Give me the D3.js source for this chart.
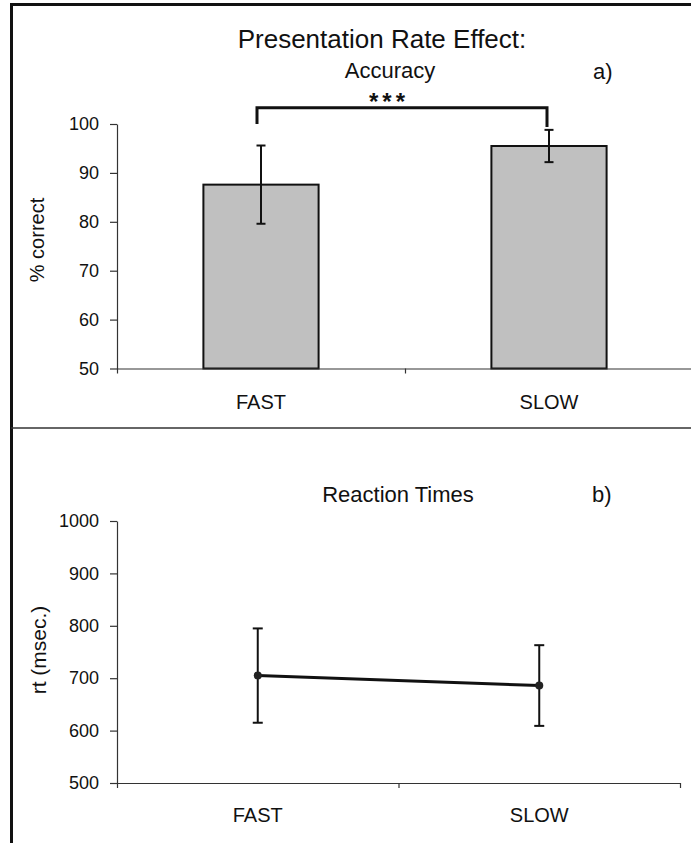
<!DOCTYPE html>
<html>
<head>
<meta charset="utf-8">
<script src="https://cdn.jsdelivr.net/npm/d3@7"></script>
<style>
  body { margin: 0; background: #fff; }
  svg { display: block; font-family: "Liberation Sans", Arial, sans-serif; }
  .axis path, .axis line { stroke: #333; stroke-width: 1.2px; }
</style>
</head>
<body>
<div class="grafico"></div>
<script>
// categorias e valores
var categorias = ["FAST", "SLOW"];

// painel a) acurácia (% correto)
var acuracia = [87.6, 95.5];
var acuraciaErro = [8.0, 3.3];
var acuraciaTicks = [50, 60, 70, 80, 90, 100];
var colchete = [100, 103.3, 99.4]; // perna esquerda, topo, perna direita

// painel b) tempos de reação (ms)
var tempos = [705, 686];
var temposErro = [90, 77];
var temposTicks = [500, 600, 700, 800, 900, 1000];

var width = 691;
var height = 843;

var svg = d3.select(".grafico")
  .append("svg")
    .attr("width", width)
    .attr("height", height);

// moldura
svg.append("line")
  .attr("x1", 11.5).attr("x2", 11.5).attr("y1", 3).attr("y2", height)
  .attr("stroke", "#111").attr("stroke-width", 3);
svg.append("line")
  .attr("x1", 10).attr("x2", width).attr("y1", 4.5).attr("y2", 4.5)
  .attr("stroke", "#111").attr("stroke-width", 3);
svg.append("line")
  .attr("x1", 11).attr("x2", width).attr("y1", 428).attr("y2", 428)
  .attr("stroke", "#333").attr("stroke-width", 1.5);

// estilo dos eixos (o d3 põe font-size 10 e sans-serif no <g>)
function estiloEixo(g){
  g.attr("font-family", "Liberation Sans, Arial, sans-serif")
   .attr("font-size", 18);
  g.selectAll("text").attr("fill", "#111");
}

// ---------- painel a) ----------
var yA = d3.scaleLinear().domain([50, 100]).range([368.5, 124]);
var xA = d3.scaleBand().domain(categorias).range([117, 693])
  .paddingInner(0.6).paddingOuter(0.3);
var xA_lin = d3.scaleLinear().domain([0, 2]).range([117, 693]);

var gA = svg.append("g");

gA.selectAll("rect.barra")
  .data(categorias)
  .enter()
    .append("rect")
    .attr("class", "barra")
    .attr("x", function(d){ return xA(d); })
    .attr("y", function(d, i){ return yA(acuracia[i]); })
    .attr("width", xA.bandwidth())
    .attr("height", function(d, i){ return yA(50) - yA(acuracia[i]); })
    .attr("fill", "#c0c0c0")
    .attr("stroke", "#111")
    .attr("stroke-width", 2);

function erroBarras(g, cx, cy0, cy1, cap){
  g.append("line").attr("x1", cx).attr("x2", cx).attr("y1", cy0).attr("y2", cy1)
    .attr("stroke", "#111").attr("stroke-width", 2);
  g.append("line").attr("x1", cx - cap/2).attr("x2", cx + cap/2).attr("y1", cy0).attr("y2", cy0)
    .attr("stroke", "#111").attr("stroke-width", 2);
  g.append("line").attr("x1", cx - cap/2).attr("x2", cx + cap/2).attr("y1", cy1).attr("y2", cy1)
    .attr("stroke", "#111").attr("stroke-width", 2);
}

categorias.forEach(function(c, i){
  var cx = xA(c) + xA.bandwidth()/2;
  erroBarras(gA, cx, yA(acuracia[i] + acuraciaErro[i]), yA(acuracia[i] - acuraciaErro[i]), 9);
});

gA.append("g")
  .attr("class", "axis")
  .attr("transform", "translate(117,0)")
  .call(d3.axisLeft(yA).tickValues(acuraciaTicks).tickSize(7).tickSizeOuter(0).tickPadding(11).tickFormat(d3.format("d")))
  .call(estiloEixo);

gA.append("g")
  .attr("class", "axis")
  .attr("transform", "translate(0,368.5)")
  .call(d3.axisBottom(xA_lin).tickValues([0, 1, 2]).tickSize(5).tickSizeOuter(0).tickFormat(""));

gA.selectAll("text.cat")
  .data(categorias)
  .enter()
    .append("text")
    .attr("class", "cat")
    .attr("x", function(d){ return xA(d) + xA.bandwidth()/2; })
    .attr("y", 409)
    .attr("text-anchor", "middle")
    .attr("font-size", 20)
    .attr("fill", "#111")
    .text(function(d){ return d; });

// colchete de significância
var cxF = xA("FAST") + xA.bandwidth()/2 - 4;
var cxS = xA("SLOW") + xA.bandwidth()/2 - 2;
gA.append("path")
  .attr("d", "M" + cxF + "," + yA(colchete[0]) + "V" + yA(colchete[1]) + "H" + cxS + "V" + yA(colchete[2]))
  .attr("fill", "none")
  .attr("stroke", "#111")
  .attr("stroke-width", 3);

gA.append("text")
  .attr("x", 389).attr("y", 110)
  .attr("text-anchor", "middle")
  .attr("font-size", 24).attr("font-weight", "bold")
  .attr("letter-spacing", 4)
  .attr("fill", "#111")
  .text("***");

gA.append("text")
  .attr("x", 382).attr("y", 48)
  .attr("text-anchor", "middle")
  .attr("font-size", 26).attr("fill", "#111")
  .text("Presentation Rate Effect:");

gA.append("text")
  .attr("x", 390).attr("y", 78)
  .attr("text-anchor", "middle")
  .attr("font-size", 22).attr("fill", "#111")
  .text("Accuracy");

gA.append("text")
  .attr("x", 593).attr("y", 79)
  .attr("font-size", 22).attr("fill", "#111")
  .text("a)");

gA.append("text")
  .attr("transform", "translate(44,240) rotate(-90)")
  .attr("text-anchor", "middle")
  .attr("font-size", 20).attr("fill", "#111")
  .text("% correct");

// ---------- painel b) ----------
var yB = d3.scaleLinear().domain([500, 1000]).range([783, 521]);
var xB = d3.scalePoint().domain(categorias).range([117, 680]).padding(0.5);
var xB_lin = d3.scaleLinear().domain([0, 2]).range([117, 680]);

var gB = svg.append("g");

gB.append("g")
  .attr("class", "axis")
  .attr("transform", "translate(117,0)")
  .call(d3.axisLeft(yB).tickValues(temposTicks).tickSize(7).tickSizeOuter(0).tickPadding(11).tickFormat(d3.format("d")))
  .call(estiloEixo);

gB.append("g")
  .attr("class", "axis")
  .attr("transform", "translate(0,783)")
  .call(d3.axisBottom(xB_lin).tickValues([0, 1, 2]).tickSize(5).tickSizeOuter(0).tickFormat(""));

categorias.forEach(function(c, i){
  erroBarras(gB, xB(c), yB(tempos[i] + temposErro[i]), yB(tempos[i] - temposErro[i]), 10);
});

var linha = d3.line()
  .x(function(d, i){ return xB(categorias[i]); })
  .y(function(d){ return yB(d); });

gB.append("path")
  .datum(tempos)
  .attr("d", linha)
  .attr("fill", "none")
  .attr("stroke", "#111")
  .attr("stroke-width", 3);

gB.selectAll("circle")
  .data(tempos)
  .enter()
    .append("circle")
    .attr("cx", function(d, i){ return xB(categorias[i]); })
    .attr("cy", function(d){ return yB(d); })
    .attr("r", 4)
    .attr("fill", "#222");

gB.selectAll("text.cat")
  .data(categorias)
  .enter()
    .append("text")
    .attr("class", "cat")
    .attr("x", function(d){ return xB(d); })
    .attr("y", 822)
    .attr("text-anchor", "middle")
    .attr("font-size", 20)
    .attr("fill", "#111")
    .text(function(d){ return d; });

gB.append("text")
  .attr("x", 398).attr("y", 502)
  .attr("text-anchor", "middle")
  .attr("font-size", 22).attr("fill", "#111")
  .text("Reaction Times");

gB.append("text")
  .attr("x", 592).attr("y", 502)
  .attr("font-size", 22).attr("fill", "#111")
  .text("b)");

gB.append("text")
  .attr("transform", "translate(46,650) rotate(-90)")
  .attr("text-anchor", "middle")
  .attr("font-size", 21).attr("fill", "#111")
  .text("rt (msec.)");
</script>
</body>
</html>
